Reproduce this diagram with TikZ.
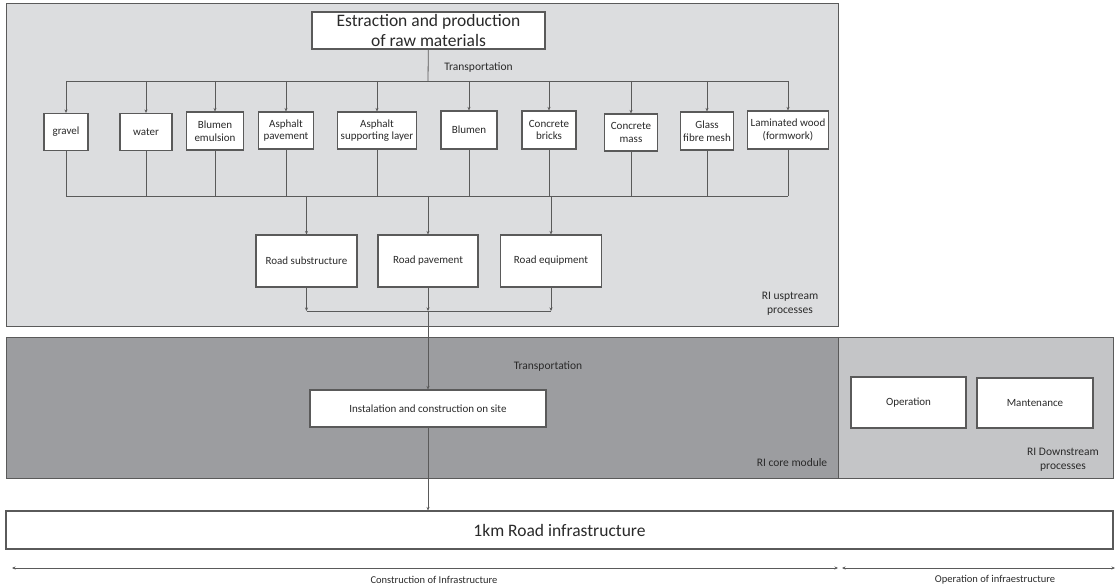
\documentclass[tikz,border=0pt]{standalone}
\usepackage{fontspec}
\setmainfont{Carlito}
\usetikzlibrary{arrows.meta}

\definecolor{upfill}{HTML}{DCDDDF}
\definecolor{corefill}{HTML}{9C9DA0}
\definecolor{downfill}{HTML}{C4C5C7}
\definecolor{edge}{HTML}{5A5A5A}
\definecolor{ink}{HTML}{2A2A2A}

\begin{document}
\begin{tikzpicture}[x=1pt,y=-1pt,
  box/.style={draw=edge,fill=white,line width=1.1pt,align=center,inner sep=0pt,text=ink,
    font=\fontsize{11}{12.5}\selectfont},
  wire/.style={draw=edge,line width=0.8pt},
  feed/.style={wire,-{Stealth[length=3.5pt,width=3pt]}},
  region/.style={draw=edge,line width=1pt},
  tag/.style={align=center,text=ink,inner sep=0pt,font=\fontsize{11.5}{14}\selectfont}]
\useasboundingbox (0,0) rectangle (1119,588);

% the three modules
\draw[region,fill=upfill] (6,4) rectangle (838,326);
\draw[region,fill=corefill] (6,337) rectangle (838,478);
\draw[region,fill=downfill] (838,337) rectangle (1113,478);

% raw materials
\node[box,minimum width=233pt,minimum height=37pt,font=\fontsize{17.5}{19.5}\selectfont]
  (estr) at (428.5,30.5) {Estraction and production\\of raw materials};
\node[tag] (trans1) at (478.5,67) {Transportation};

\node[box,minimum width=44pt,minimum height=37pt] (gravel) at (66,132) {gravel};
\node[box,minimum width=52pt,minimum height=37pt] (water) at (146,132) {water};
\node[box,minimum width=57pt,minimum height=38pt] (emulsion) at (215,131) {Blumen\\emulsion};
\node[box,minimum width=55pt,minimum height=37pt] (aspave) at (286,130.5) {Asphalt\\pavement};
\node[box,minimum width=79pt,minimum height=37pt] (asplayer) at (377,130.5) {Asphalt\\supporting layer};
\node[box,minimum width=56pt,minimum height=38pt] (blumen) at (469,130) {Blumen};
\node[box,minimum width=54pt,minimum height=38pt] (bricks) at (549,130) {Concrete\\bricks};
\node[box,minimum width=53pt,minimum height=37pt] (cmass) at (631,132.5) {Concrete\\mass};
\node[box,minimum width=53pt,minimum height=38pt] (glass) at (707,131) {Glass\\fibre mesh};
\node[box,minimum width=81pt,minimum height=38pt] (wood) at (788,130) {Laminated wood\\(formwork)};

% road elements
\node[box,minimum width=101pt,minimum height=52pt] (subst) at (306.5,261) {Road substructure};
\node[box,minimum width=100pt,minimum height=52pt] (pavem) at (428,261) {Road pavement};
\node[box,minimum width=101pt,minimum height=52pt] (equip) at (551,261) {Road equipment};
\node[tag] (upstr) at (790,304) {RI usptream\\processes};

% core and downstream
\node[tag] (trans2) at (548,366) {Transportation};
\node[box,minimum width=236pt,minimum height=37pt] (inst) at (428,408.5) {Instalation and construction on site};
\node[tag] (coremod) at (792,463) {RI core module};
\node[box,minimum width=115pt,minimum height=51pt] (oper) at (908.5,402.5) {Operation};
\node[box,minimum width=116pt,minimum height=50pt] (maint) at (1035,403) {Mantenance};
\node[tag] (downstr) at (1063,459.5) {RI Downstream\\processes};

\node[box,minimum width=1107pt,minimum height=38pt,font=\fontsize{17.5}{20}\selectfont]
  (road) at (559.5,530) {1km Road infrastructure};

% distribution bus
\coordinate (busT) at (428,81);
\coordinate (busB) at (428,196);
\coordinate (coll) at (428,311);
\draw[wire] (estr) -- (busT);
\draw[wire] (gravel.north |- busT) -- (wood.north |- busT);
\draw[wire] (gravel.south |- busB) -- (wood.south |- busB);
\foreach \m in {gravel,water,emulsion,aspave,asplayer,blumen,bricks,cmass,glass,wood}{
  \draw[feed] (\m.north |- busT) -- (\m.north);
  \draw[wire] (\m.south) -- (\m.south |- busB);
}
\draw[feed] (subst.north |- busB) -- (subst.north);
\draw[feed] (pavem.north |- busB) -- (pavem.north);
\draw[feed] (equip.north |- busB) -- (equip.north);

% collecting road elements
\draw[feed] (subst.south) -- (subst.south |- coll);
\draw[feed] (equip.south) -- (equip.south |- coll);
\draw[wire] (subst.south |- coll) -- (equip.south |- coll);
\draw[feed] (pavem.south) -- (coll);
\draw[feed] (coll) -- (inst.north);
\draw[feed] (inst.south) -- (inst.south |- road.north);

% life cycle stages
\coordinate (lifeL) at (12,568);
\coordinate (lifeM) at (838,568);
\coordinate (lifeN) at (842,568);
\coordinate (lifeR) at (1115,568);
\draw[wire,line width=0.7pt,{Stealth[length=3.5pt,width=3pt]}-{Stealth[length=3.5pt,width=3pt]}] (lifeL) -- (lifeM);
\draw[wire,line width=0.7pt,{Stealth[length=3.5pt,width=3pt]}-{Stealth[length=3.5pt,width=3pt]}] (lifeN) -- (lifeR);
\node[tag,font=\fontsize{10.5}{12}\selectfont] (constr) at (434,580) {Construction of Infrastructure};
\node[tag,font=\fontsize{10.5}{12}\selectfont] (operat) at (995,580) {Operation of infraestructure};
\end{tikzpicture}
\end{document}
